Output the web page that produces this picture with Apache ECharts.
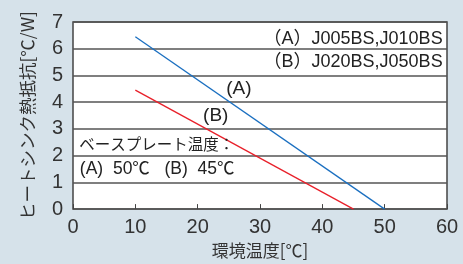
<!DOCTYPE html>
<html>
<head>
<meta charset="utf-8">
<script src="https://cdn.jsdelivr.net/npm/echarts@6/dist/echarts.min.js"></script>
<style>
  html, body { margin: 0; padding: 0; background: #d6e2ea; }
  #chart { width: 463px; height: 264px; }
</style>
</head>
<body>
<div id="chart"></div>
<script>
// データ
var seriesA = [[10, 6.45], [50, 0]];   // (A) J005BS,J010BS  ベース50℃
var seriesB = [[10, 4.45], [45, 0]];   // (B) J020BS,J050BS  ベース45℃
var xTicks = [0, 10, 20, 30, 40, 50, 60];
var yTicks = [0, 1, 2, 3, 4, 5, 6, 7];

var FONT = '"Liberation Sans", "Noto Sans CJK JP", sans-serif';
var JP = '"Noto Sans CJK JP", sans-serif';

var myChart = echarts.init(document.getElementById('chart'));

// 注記ラベル（データ座標で置く）
function note(coord, text, align, size, family) {
    return {
        coord: coord,
        symbol: 'circle',
        symbolSize: 1,
        itemStyle: { color: 'rgba(0,0,0,0)' },
        label: {
            show: true,
            formatter: text,
            position: 'inside',
            align: align || 'center',
            verticalAlign: 'middle',
            color: '#222',
            fontSize: size || 16,
            fontFamily: family || FONT
        }
    };
}

var option = {
    backgroundColor: '#d6e2ea',
    animation: false,
    grid: {
        left: 73,
        right: 16,
        top: 22,
        bottom: 53,
        show: true,
        backgroundColor: '#ffffff',
        borderColor: '#444',
        borderWidth: 1.5
    },
    xAxis: {
        type: 'value',
        min: 0,
        max: 60,
        interval: 10,
        name: '環境温度[℃]',
        nameLocation: 'middle',
        nameGap: 32,
        nameTextStyle: { fontSize: 17, color: '#333', fontFamily: JP },
        axisLine: { show: false },
        axisTick: {
            show: true,
            inside: true,
            length: 5,
            lineStyle: { color: '#444', width: 1 }
        },
        axisLabel: {
            fontSize: 20,
            color: '#333',
            margin: 8,
            fontFamily: FONT,
            formatter: function (v) { return xTicks.indexOf(v) >= 0 ? String(v) : ''; }
        },
        splitLine: { show: false }
    },
    yAxis: {
        type: 'value',
        min: 0,
        max: 7,
        interval: 1,
        name: 'ヒートシンク熱抵抗[℃/W]',
        nameLocation: 'middle',
        nameGap: 37,
        nameRotate: 90,
        nameTextStyle: { fontSize: 17.5, color: '#333', fontFamily: JP },
        axisLine: { show: false },
        axisTick: { show: false },
        axisLabel: {
            fontSize: 20,
            color: '#333',
            margin: 10,
            fontFamily: FONT,
            formatter: function (v) { return yTicks.indexOf(v) >= 0 ? String(v) : ''; }
        },
        splitLine: { show: true, lineStyle: { color: '#555', width: 1.5 } }
    },
    series: [
        {
            name: '(A)',
            type: 'line',
            data: seriesA,
            symbol: 'none',
            lineStyle: { color: '#1a6fc0', width: 1.3 },
            markPoint: {
                data: [
                    note([59.3, 6.35], '（A）J005BS,J010BS', 'right', 18),
                    note([59.3, 5.5], '（B）J020BS,J050BS', 'right', 18),
                    note([26.6, 4.5], '(A)', 'center', 19),
                    note([1.0, 2.45], 'ベースプレート温度：', 'left', 15.5, JP),
                    note([1.1, 1.5], '(A)  50℃   (B)  45℃', 'left', 17.5)
                ]
            }
        },
        {
            name: '(B)',
            type: 'line',
            data: seriesB,
            symbol: 'none',
            lineStyle: { color: '#e8202a', width: 1.3 },
            markPoint: {
                data: [
                    note([22.9, 3.5], '(B)', 'center', 19)
                ]
            }
        }
    ]
};

myChart.setOption(option);
</script>
</body>
</html>
